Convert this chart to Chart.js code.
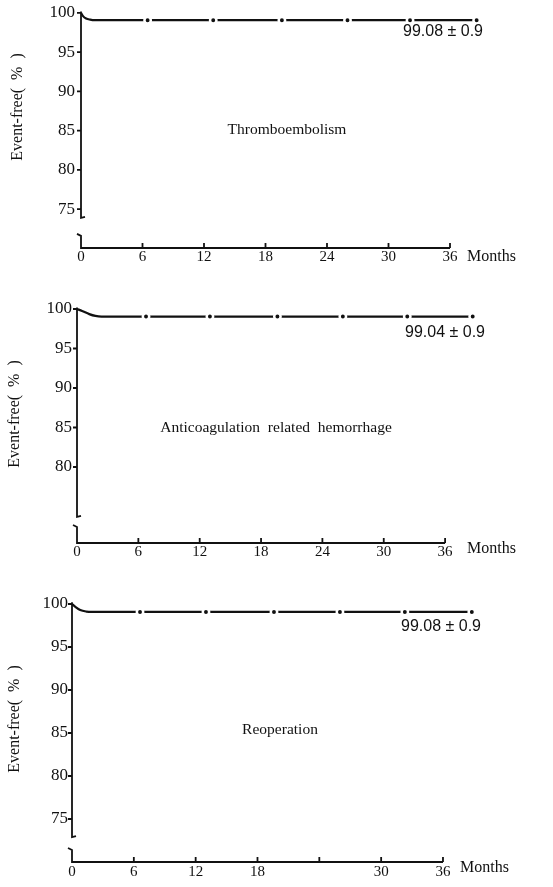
<!DOCTYPE html>
<html>
<head>
<meta charset="utf-8">
<script src="https://cdn.jsdelivr.net/npm/chart.js@4.4.1/dist/chart.umd.min.js"></script>
<style>
  html, body { margin: 0; padding: 0; background: #fff; }
  #wrap { position: relative; width: 553px; height: 887px; }
  canvas { position: absolute; left: 0; }
</style>
</head>
<body>
<div id="wrap">
  <canvas id="c1" width="553" height="290" style="top:0"></canvas>
  <canvas id="c2" width="553" height="290" style="top:290px"></canvas>
  <canvas id="c3" width="553" height="307" style="top:580px"></canvas>
</div>
<script>
// event-free curves (months, %)
const months1 = [0, 0.2, 0.5, 0.9, 1.3, 38.6];
const values1 = [100, 99.6, 99.3, 99.15, 99.08, 99.08];
const censor1 = [6.5, 12.9, 19.6, 26.0, 32.1, 38.6];

const months2 = [0, 0.5, 1.2, 1.8, 2.4, 38.7];
const values2 = [100, 99.75, 99.35, 99.12, 99.04, 99.04];
const censor2 = [6.75, 13.0, 19.6, 26.0, 32.3, 38.7];

const months3 = [0, 0.3, 0.8, 1.4, 1.9, 38.8];
const values3 = [100, 99.7, 99.3, 99.12, 99.08, 99.08];
const censor3 = [6.6, 13.0, 19.6, 26.0, 32.3, 38.8];

const titles = ['Thromboembolism', 'Anticoagulation  related  hemorrhage', 'Reoperation'];
const notes = ['99.08 ± 0.9', '99.04 ± 0.9', '99.08 ± 0.9'];

const xTicks = [0, 6, 12, 18, 24, 30, 36];
const xLabels1 = [0, 6, 12, 18, 24, 30, 36];
const xLabels2 = [0, 6, 12, 18, 24, 30, 36];
const xLabels3 = [0, 6, 12, 18, 30, 36];
const yTicks1 = [75, 80, 85, 90, 95, 100];
const yTicks2 = [80, 85, 90, 95, 100];
const yTicks3 = [75, 80, 85, 90, 95, 100];

const ink = '#111';

function drawFrame(chart, p) {
    const ctx = chart.ctx, xs = chart.scales.x, ys = chart.scales.y, a = chart.chartArea;
    const x0 = xs.getPixelForValue(0), xEnd = xs.getPixelForValue(36);
    const yb = ys.getPixelForValue(p.breakAt), yr = ys.getPixelForValue(p.resumeAt);
    ctx.save();
    ctx.strokeStyle = ink;
    ctx.lineWidth = 1.8;
    ctx.beginPath();
    // broken y axis
    ctx.moveTo(x0, a.top);
    ctx.lineTo(x0, yb);
    ctx.lineTo(x0 + 4, yb - 1);
    ctx.moveTo(x0 - 4, yr - 2);
    ctx.lineTo(x0, yr);
    ctx.lineTo(x0, a.bottom);
    // x axis up to 36 months
    ctx.lineTo(xEnd, a.bottom);
    p.yTicks.forEach(v => {
        const py = ys.getPixelForValue(v);
        ctx.moveTo(x0 - 4, py);
        ctx.lineTo(x0, py);
    });
    xTicks.forEach(v => {
        const px = xs.getPixelForValue(v);
        ctx.moveTo(px, a.bottom);
        ctx.lineTo(px, a.bottom - 5);
    });
    ctx.stroke();

    ctx.fillStyle = ink;
    ctx.textBaseline = 'middle';
    ctx.textAlign = 'center';
    ctx.font = '15.5px "Liberation Serif"';
    ctx.fillText(p.title, p.titleX, p.titleY);
    ctx.font = '16px "Liberation Sans"';
    ctx.fillText(p.note, p.noteX, p.noteY);
    ctx.textAlign = 'left';
    ctx.font = '16px "Liberation Serif"';
    ctx.fillText('Months', p.monthsX, p.monthsY);
    ctx.translate(p.labelX, p.labelY);
    ctx.rotate(-Math.PI / 2);
    ctx.textAlign = 'center';
    ctx.font = '16px "Liberation Serif"';
    ctx.fillText('Event-free(  %  )', 0, 0);
    ctx.restore();
}

function makeChart(id, p) {
    return new Chart(document.getElementById(id), {
        type: 'line',
        data: {
            datasets: [{
                data: p.censor.map(m => ({ x: m, y: p.values[p.values.length - 1] })),
                showLine: false,
                pointRadius: 3.2,
                pointBorderWidth: 2.5,
                pointBackgroundColor: ink,
                pointBorderColor: '#fff'
            }, {
                data: p.months.map((m, i) => ({ x: m, y: p.values[i] })),
                borderColor: ink,
                borderWidth: 2.2,
                pointRadius: 0,
                cubicInterpolationMode: 'monotone'
            }]
        },
        options: {
            responsive: false,
            animation: false,
            devicePixelRatio: 1,
            layout: { padding: { top: p.padTop, right: p.padRight, left: 0, bottom: 0 } },
            plugins: { legend: { display: false }, tooltip: { enabled: false } },
            scales: {
                x: {
                    type: 'linear', min: 0, max: 40,
                    grid: { display: false, drawTicks: false },
                    border: { display: false },
                    afterBuildTicks: s => { s.ticks = xTicks.map(v => ({ value: v })); },
                    afterFit: s => { s.height = p.xHeight; s.paddingLeft = 0; s.paddingRight = 0; },
                    ticks: {
                        padding: p.xPad, maxRotation: 0, autoSkip: false, color: ink,
                        font: { family: 'Liberation Serif', size: 15 },
                        callback: v => p.xLabels.includes(v) ? v : ''
                    }
                },
                y: {
                    min: p.yMin, max: 100.2,
                    grid: { display: false, drawTicks: false },
                    border: { display: false },
                    afterBuildTicks: s => { s.ticks = p.yTicks.map(v => ({ value: v })); },
                    afterFit: s => { s.width = p.axisX; s.paddingTop = 0; s.paddingBottom = 0; },
                    ticks: {
                        padding: p.yPad, color: ink,
                        font: { family: 'Liberation Serif', size: 17 }
                    }
                }
            }
        },
        plugins: [{ id: 'figure', afterDraw: chart => drawFrame(chart, p) }]
    });
}

makeChart('c1', {
    months: months1, values: values1, censor: censor1, xLabels: xLabels1, yTicks: yTicks1,
    title: titles[0], note: notes[0],
    axisX: 81, padTop: 11.4, padRight: 62, xHeight: 42, yMin: 70.05, xPad: 0, yPad: 6,
    breakAt: 73.9, resumeAt: 71.6,
    titleX: 287, titleY: 130, noteX: 443, noteY: 32, monthsX: 467, monthsY: 257, labelX: 18, labelY: 107
});

makeChart('c2', {
    months: months2, values: values2, censor: censor2, xLabels: xLabels2, yTicks: yTicks2,
    title: titles[1], note: notes[1],
    axisX: 77, padTop: 17.4, padRight: 67, xHeight: 37, yMin: 70.38, xPad: 0, yPad: 5,
    breakAt: 73.7, resumeAt: 72.4,
    titleX: 276, titleY: 138, noteX: 445, noteY: 43, monthsX: 467, monthsY: 259, labelX: 15, labelY: 124
});

makeChart('c3', {
    months: months3, values: values3, censor: censor3, xLabels: xLabels3, yTicks: yTicks3,
    title: titles[2], note: notes[2],
    axisX: 72, padTop: 22.3, padRight: 68.8, xHeight: 25, yMin: 70.0, xPad: 1, yPad: 4,
    breakAt: 72.9, resumeAt: 71.4,
    titleX: 280, titleY: 150, noteX: 441, noteY: 47, monthsX: 460, monthsY: 288, labelX: 15, labelY: 139
});
</script>
</body>
</html>
